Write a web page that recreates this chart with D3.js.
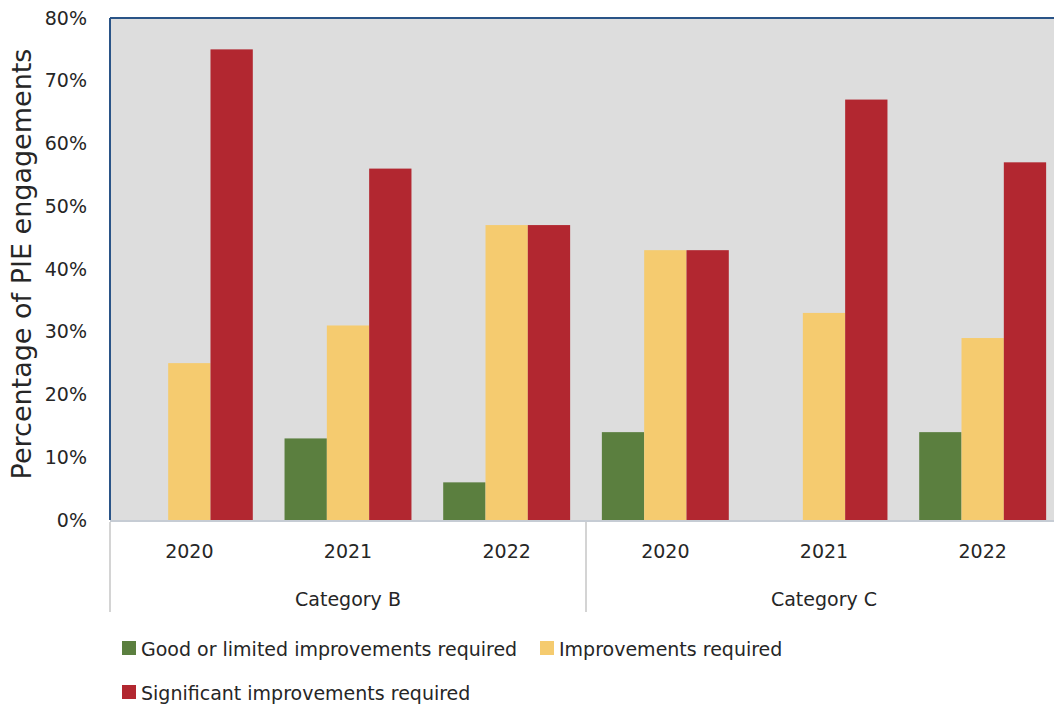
<!DOCTYPE html>
<meta charset="utf-8">
<style>
  body { margin: 0; background: #fff; overflow: hidden; }
  text { font-family: "DejaVu Sans", sans-serif; fill: #262626; }
</style>
<svg width="1054" height="706"></svg>
<script src="https://d3js.org/d3.v7.min.js"></script>
<script>

// data
var groups = ["Category B", "Category C"];
var years = ["2020", "2021", "2022"];
var seriesNames = ["Good or limited improvements required", "Improvements required", "Significant improvements required"];
var colors = ["#5b7f3f", "#f5cb6f", "#b22730"];
var good = [0, 13, 6, 14, 0, 14];
var improve = [25, 31, 47, 43, 33, 29];
var significant = [75, 56, 47, 43, 67, 57];
var yTicks = [0, 10, 20, 30, 40, 50, 60, 70, 80];

var svg = d3.select("svg");
var plotL = 110, plotR = 1062, plotT = 18, plotB = 520;

var slots = [];
groups.forEach(function(g) { years.forEach(function(y) { slots.push(g + "|" + y); }); });
var series = [good, improve, significant];

var x = d3.scaleBand().domain(slots).range([plotL, plotR]).paddingInner(0.2).paddingOuter(0.1);
var xs = d3.scaleBand().domain(d3.range(3)).range([0, x.bandwidth()]);
var y = d3.scaleLinear().domain([0, 80]).range([plotB, plotT]);

// plot background
svg.append("rect")
    .attr("x", plotL).attr("y", plotT)
    .attr("width", plotR - plotL).attr("height", plotB - plotT)
    .attr("fill", "#dddddd");

// bars
series.forEach(function(vals, si) {
  svg.append("g").selectAll("rect")
    .data(vals)
    .enter().append("rect")
      .attr("x", function(d, i) { return x(slots[i]) + xs(si); })
      .attr("y", function(d) { return y(d); })
      .attr("width", xs.bandwidth())
      .attr("height", function(d) { return plotB - y(d); })
      .attr("fill", colors[si]);
});

// frame: dark blue top & left, light bottom
svg.append("line").attr("x1", plotL).attr("x2", plotR).attr("y1", plotT).attr("y2", plotT)
    .attr("stroke", "#2a5487").attr("stroke-width", 2);
svg.append("line").attr("x1", plotL).attr("x2", plotL).attr("y1", plotT).attr("y2", plotB)
    .attr("stroke", "#2a5487").attr("stroke-width", 2);
svg.append("line").attr("x1", plotL).attr("x2", plotR).attr("y1", plotB + 1).attr("y2", plotB + 1)
    .attr("stroke", "#c6ccd4").attr("stroke-width", 2);

// y axis
var yAxis = svg.append("g")
    .attr("transform", "translate(" + (plotL - 20) + ",0)")
    .call(d3.axisLeft(y).tickValues(yTicks).tickSize(0).tickFormat(function(d) { return d + "%"; }));
yAxis.select(".domain").remove();
yAxis.selectAll("text").attr("font-size", 19).attr("font-family", "DejaVu Sans").attr("fill", "#262626");

svg.append("text")
    .attr("transform", "translate(31,264) rotate(-90)")
    .attr("text-anchor", "middle")
    .attr("font-size", 27)
    .text("Percentage of PIE engagements");

// x axis: years
var xAxis = svg.append("g")
    .attr("transform", "translate(0," + (plotB + 21) + ")")
    .call(d3.axisBottom(x).tickSize(0).tickFormat(function(d) { return d.split("|")[1]; }));
xAxis.select(".domain").remove();
xAxis.selectAll("text").attr("font-size", 19).attr("font-family", "DejaVu Sans").attr("fill", "#262626");

// group labels and separators
var gw = (plotR - plotL) / groups.length;
groups.forEach(function(g, gi) {
  var gx = plotL + gi * gw;
  svg.append("line").attr("x1", gx).attr("x2", gx).attr("y1", plotB + 2).attr("y2", 612)
      .attr("stroke", "#d4d4d4").attr("stroke-width", 2);
  svg.append("text")
      .attr("x", gx + gw / 2).attr("y", 606)
      .attr("text-anchor", "middle")
      .attr("font-size", 19)
      .text(g);
});

// legend
var legendPos = [[122, 649], [540, 649], [122, 693]];
seriesNames.forEach(function(name, i) {
  var lg = svg.append("g").attr("transform", "translate(" + legendPos[i][0] + "," + legendPos[i][1] + ")");
  lg.append("rect").attr("x", 0).attr("y", -8).attr("width", 14).attr("height", 14).attr("fill", colors[i]);
  lg.append("text").attr("x", 19).attr("y", 7).attr("font-size", 19).text(name);
});

</script>
